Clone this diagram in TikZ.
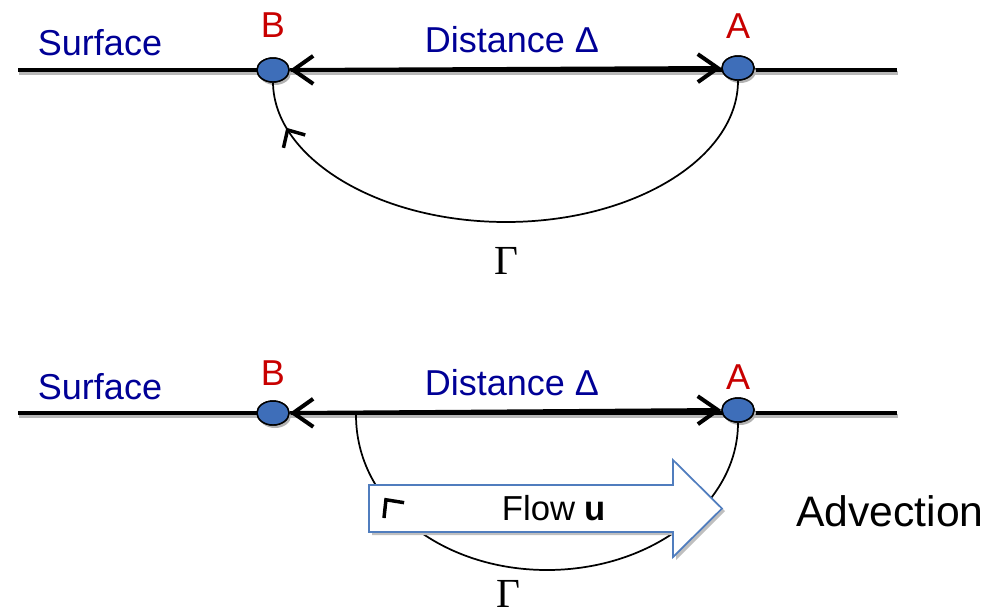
\documentclass[tikz,border=0pt]{standalone}
\usepackage{fontspec}
\setmainfont{Liberation Sans}
\newfontfamily\serifgr{Liberation Serif}
\usetikzlibrary{arrows.meta,decorations.markings,shapes.geometric}
\definecolor{txtblue}{RGB}{0,0,150}
\definecolor{txtred}{RGB}{200,0,0}
\definecolor{dotblue}{RGB}{62,110,185}
\definecolor{flowblue}{RGB}{80,125,190}
\begin{document}
\begin{tikzpicture}[x=0.75pt,y=-0.75pt,
  lbl/.style={font=\fontsize{27}{30}\selectfont, text=txtblue, inner sep=0pt},
  ptlbl/.style={font=\fontsize{27}{30}\selectfont, text=txtred, inner sep=0pt},
  gammalbl/.style={font=\serifgr\fontsize{31}{34}\selectfont, inner sep=0pt},
  dot/.style={ellipse, draw=black, line width=1.1pt, fill=dotblue, minimum width=24pt, minimum height=18pt, inner sep=0pt},
  dotshadow/.style={ellipse, fill=black!30, minimum width=24pt, minimum height=18pt, inner sep=0pt},
  surf/.style={line width=3pt, black},
  shadowline/.style={line width=3pt, black!28},
  dist/.style={line width=3pt, {Straight Barb[length=15pt,width=21pt]}-{Straight Barb[length=15pt,width=21pt]}},
  gam/.style={line width=1.3pt},
  marktip/.style={decoration={markings, mark=at position #1 with {\arrow{Straight Barb[length=10pt,width=19pt,line width=2.6pt]}}}, postaction={decorate}},
  flowarrow/.style={draw=flowblue, fill=white, line width=1.3pt, line join=miter},
]
\useasboundingbox (0,0) rectangle (987,615);

% ---------- top panel ----------
\coordinate (LT) at (18,70);
\coordinate (RT) at (897,70);
\draw[shadowline, transform canvas={shift={(1pt,-2.5pt)}}] (LT) -- (RT);
\draw[surf] (LT) -- (RT);
\node[dotshadow] at (275,73) {};
\node[dotshadow] at (740,71) {};
\node[dot] (B1) at (273,70) {};
\node[dot] (A1) at (738,68) {};
\draw[dist] (B1.east) -- (A1.west);
\draw[gam, marktip=0.92] (A1.south) .. controls (738,158) and (634,222) .. (506,222)
   .. controls (378,222) and (274,158) .. (B1.south);
\node[dot] at (B1) {};
\node[dot] at (A1) {};

\node[lbl] (surf1) at (100,43) {Surface};
\node[ptlbl] (lb1) at (273,25) {B};
\node[lbl] (dist1) at (512,40) {Distance Δ};
\node[ptlbl] (la1) at (738,26) {A};
\node[gammalbl] (g1) at (506,261) {Γ};

% ---------- bottom panel ----------
\coordinate (LB) at (18,413);
\coordinate (RB) at (897,413);
\coordinate (L2) at (356,415);
\draw[shadowline, transform canvas={shift={(1pt,-2.5pt)}}] (LB) -- (RB);
\draw[surf] (LB) -- (RB);
\node[dotshadow] at (275,416) {};
\node[dotshadow] at (740,413) {};
\node[dot] (B2) at (273,413) {};
\node[dot] (A2) at (738,410) {};
\draw[dist] (B2.east) -- (A2.west);
\draw[gam] (A2.south) .. controls (738,504) and (652,570) .. (547,570)
   .. controls (442,570) and (356,504) .. (L2);
\node[dot] at (B2) {};
\node[dot] at (A2) {};

% flow arrow
\fill[black!25] (372,488) -- (676,488) -- (676,463) -- (725,511) -- (676,560) -- (676,535) -- (372,535) -- cycle;
\draw[flowarrow] (369,485) -- (673,485) -- (673,460) -- (722,508.5) -- (673,557) -- (673,532) -- (369,532) -- cycle;
\path[marktip=0.835] (A2.south) .. controls (738,504) and (652,570) .. (547,570)
   .. controls (442,570) and (356,504) .. (L2);
\node[font=\fontsize{26}{30}\selectfont, inner sep=0pt] (flow) at (554,508) {Flow \textbf{u}};

\node[lbl] (surf2) at (100,387) {Surface};
\node[ptlbl] (lb2) at (273,373) {B};
\node[lbl] (dist2) at (512,383) {Distance Δ};
\node[ptlbl] (la2) at (738,377) {A};
\node[gammalbl] (g2) at (508,594) {Γ};
\node[font=\fontsize{32}{36}\selectfont, inner sep=0pt] (adv) at (890,511) {Advection};
\end{tikzpicture}
\end{document}
